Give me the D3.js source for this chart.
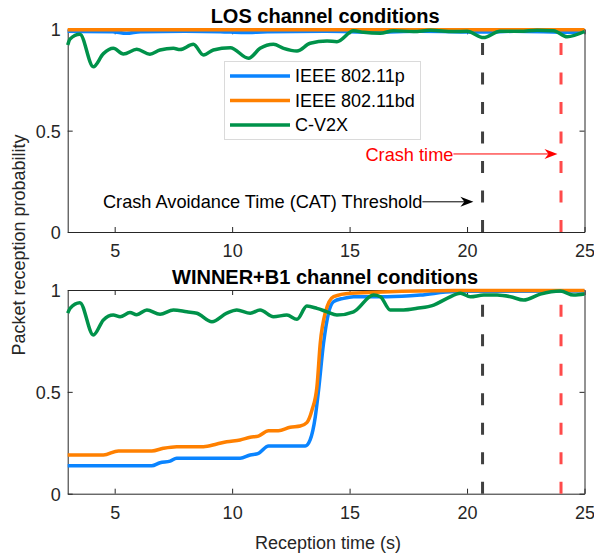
<!DOCTYPE html>
<html>
<head>
<meta charset="utf-8">
<script src="https://cdn.jsdelivr.net/npm/d3@7"></script>
<style>
  body { margin: 0; background: #fff; }
  svg { display: block; font-family: "Liberation Sans", Arial, Helvetica, sans-serif; }
</style>
</head>
<body>
<div id="chart"></div>
<script>
// ---- data (time in s, packet reception probability) ----
const xTicks = [5, 10, 15, 20, 25];
const yTicks = [0, 0.5, 1];
const seriesNames = ["IEEE 802.11p", "IEEE 802.11bd", "C-V2X"];
const seriesColors = ["#0a84ff", "#ff8000", "#00924a"];
const panelTitles = ["LOS channel conditions", "WINNER+B1 channel conditions"];
const catTime = 20.66;
const crashTime = 24;

const losP = [[3, 0.99], [4.9, 0.988], [5.5, 0.98], [6.1, 0.988], [8, 0.99], [9.5, 0.988],
  [10.5, 0.984], [11.5, 0.988], [14, 0.99], [16, 0.986], [18, 0.99], [20.7, 0.987],
  [22, 0.99], [24.5, 0.985], [25, 0.99]];
const losBd = [[3, 0.998], [25, 0.998]];
const losCv2x = [[3, 0.922], [3.1, 0.952], [3.52, 0.975], [4.09, 0.815], [4.52, 0.88],
  [4.94, 0.906], [5.37, 0.878], [5.94, 0.901], [6.5, 0.877], [6.93, 0.898], [7.5, 0.906],
  [7.78, 0.9], [8.35, 0.926], [8.78, 0.873], [9.2, 0.898], [9.92, 0.909], [10.7, 0.857],
  [11.19, 0.906], [11.76, 0.926], [12.19, 0.906], [12.76, 0.893], [13.32, 0.931],
  [14.04, 0.942], [14.46, 0.939], [15.17, 0.993], [15.6, 0.985], [16.3, 0.98],
  [16.87, 0.993], [17.73, 0.989], [18.44, 0.995], [19.43, 0.989], [20, 0.99],
  [20.7, 0.959], [21.4, 0.99], [22.26, 0.99], [22.98, 0.995], [23.69, 0.993],
  [24.26, 0.963], [25, 0.989]];

const winP = [[3, 0.137], [6.58, 0.137], [6.93, 0.152], [7.36, 0.16], [7.64, 0.174],
  [10.34, 0.174], [10.77, 0.19], [11.12, 0.198], [11.55, 0.234], [13.11, 0.234],
  [13.32, 0.264], [13.54, 0.378], [13.68, 0.509], [13.89, 0.738], [14.1, 0.886],
  [14.32, 0.943], [14.74, 0.959], [15.17, 0.967], [16.59, 0.967], [18.01, 0.975],
  [19.43, 0.993], [25, 0.995]];
const winBd = [[3, 0.19], [4.52, 0.19], [5.16, 0.21], [6.58, 0.21], [7.07, 0.223],
  [7.64, 0.231], [8.78, 0.231], [9.35, 0.244], [9.77, 0.255], [10.34, 0.264],
  [10.77, 0.277], [11.12, 0.283], [11.55, 0.309], [11.97, 0.309], [12.47, 0.326],
  [12.9, 0.332], [13.18, 0.349], [13.4, 0.411], [13.61, 0.525], [13.75, 0.738],
  [13.96, 0.886], [14.32, 0.967], [15.03, 0.984], [19.43, 0.997], [25, 0.997]];
const winCv2x = [[3, 0.886], [3.1, 0.91], [3.52, 0.938], [4.09, 0.779], [4.52, 0.853],
  [4.94, 0.877], [5.23, 0.869], [5.65, 0.889], [5.94, 0.879], [6.37, 0.902], [6.93, 0.881],
  [7.5, 0.902], [8.07, 0.893], [8.5, 0.886], [9.14, 0.844], [9.77, 0.886], [10.2, 0.902],
  [10.77, 0.886], [11.19, 0.902], [11.76, 0.869], [12.33, 0.877], [12.76, 0.856],
  [13.18, 0.921], [13.61, 0.91], [14.04, 0.893], [14.46, 0.877], [15.17, 0.893],
  [16.02, 0.975], [16.31, 0.967], [16.73, 0.902], [17.3, 0.902], [17.87, 0.91],
  [18.58, 0.926], [19.15, 0.959], [19.72, 0.984], [20.14, 0.967], [20.71, 0.975],
  [21.28, 0.975], [21.85, 0.967], [22.41, 0.951], [23.12, 0.98], [23.97, 0.995],
  [24.54, 0.975], [25, 0.98]];

// annotation arrows in the LOS panel: [time, probability]
const annotations = [
  { text: "Crash time", color: "#ff0000", from: [19.42, 0.385], to: [23.85, 0.385] },
  { text: "Crash Avoidance Time (CAT) Threshold", color: "#000", from: [18.1, 0.149], to: [20.27, 0.149] }
];

// ---- layout ----
const width = 594, height = 554;
const axisColor = "#262626";
const box = { left: 67.7, right: 584.5 };
const panels = [
  { title: panelTitles[0], top: 29.3, bottom: 232, data: [losP, losBd, losCv2x], legend: true },
  { title: panelTitles[1], top: 290, bottom: 493.7, data: [winP, winBd, winCv2x], legend: false }
];

const svg = d3.select("#chart").append("svg")
  .attr("width", width)
  .attr("height", height);

const x = d3.scaleLinear().domain([3, 25]).range([box.left, box.right]);

panels.forEach(function (p, i) {
  const y = d3.scaleLinear().domain([0, 1]).range([p.bottom, p.top]);
  const g = svg.append("g");

  // axes box with inward ticks
  const gx = g.append("g")
    .attr("transform", "translate(0," + p.bottom + ")")
    .call(d3.axisBottom(x).tickValues(xTicks).tickSizeInner(-5).tickSizeOuter(0).tickFormat(d => d));
  gx.selectAll("text").attr("y", 25).attr("dy", null).style("font-size", "18px");

  g.append("g")
    .attr("transform", "translate(0," + p.top + ")")
    .call(d3.axisTop(x).tickValues(xTicks).tickSizeInner(-5).tickSizeOuter(0).tickFormat(""));

  const gy = g.append("g")
    .attr("transform", "translate(" + box.left + ",0)")
    .call(d3.axisLeft(y).tickValues(yTicks).tickSizeInner(-5).tickSizeOuter(0).tickFormat(d => d));
  gy.selectAll("text").attr("x", -7).attr("dy", "0.36em").style("font-size", "18px");

  g.append("g")
    .attr("transform", "translate(" + box.right + ",0)")
    .call(d3.axisRight(y).tickValues(yTicks).tickSizeInner(-5).tickSizeOuter(0).tickFormat(""));

  g.selectAll(".domain, .tick line").attr("stroke", axisColor).attr("stroke-width", 1);
  g.selectAll(".tick text").attr("fill", axisColor).style("font-family", "Liberation Sans, Arial, sans-serif");

  // title
  g.append("text")
    .attr("x", (box.left + box.right) / 2 - 1)
    .attr("y", p.top - 6.5)
    .attr("text-anchor", "middle")
    .style("font-size", "20px")
    .style("font-weight", "bold")
    .text(p.title);

  // dashed time markers
  [[catTime, "#404040"], [crashTime, "#ff4a4a"]].forEach(function (m) {
    g.append("line")
      .attr("x1", x(m[0])).attr("x2", x(m[0]))
      .attr("y1", y(0)).attr("y2", y(1))
      .attr("stroke", m[1])
      .attr("stroke-width", 3)
      .attr("stroke-dasharray", "12,17.5");
  });

  // series
  const line = d3.line()
    .x(d => x(d[0]))
    .y(d => y(d[1]))
    .curve(d3.curveMonotoneX);

  p.data.forEach(function (s, k) {
    g.append("path")
      .datum(s)
      .attr("fill", "none")
      .attr("stroke", seriesColors[k])
      .attr("stroke-width", 3.5)
      .attr("stroke-linejoin", "round")
      .attr("d", line);
  });

  if (p.legend) {
    const lg = g.append("g");
    lg.append("rect")
      .attr("x", 224.5).attr("y", 61.5)
      .attr("width", 196).attr("height", 78)
      .attr("fill", "#fff")
      .attr("stroke", "#dadada")
      .attr("stroke-width", 1);
    seriesNames.forEach(function (name, k) {
      const ry = 76 + k * 24.5;
      lg.append("line")
        .attr("x1", 230).attr("x2", 290)
        .attr("y1", ry).attr("y2", ry)
        .attr("stroke", seriesColors[k])
        .attr("stroke-width", 3.5);
      lg.append("text")
        .attr("x", 295).attr("y", ry)
        .attr("dy", "0.36em")
        .style("font-size", "18px")
        .attr("fill", "#000")
        .text(name);
    });

    // annotation arrows
    annotations.forEach(function (a) {
      const x0 = x(a.from[0]), y0 = y(a.from[1]);
      const x1 = x(a.to[0]), y1 = y(a.to[1]);
      g.append("line")
        .attr("x1", x0).attr("y1", y0)
        .attr("x2", x1 - 6).attr("y2", y1)
        .attr("stroke", a.color)
        .attr("stroke-width", 1);
      g.append("path")
        .attr("d", "M" + x1 + "," + y1 + "L" + (x1 - 13) + "," + (y1 - 5) +
          "L" + (x1 - 9) + "," + y1 + "L" + (x1 - 13) + "," + (y1 + 5) + "Z")
        .attr("fill", a.color);
      g.append("text")
        .attr("x", x0).attr("y", y0)
        .attr("dy", "0.36em")
        .attr("text-anchor", "end")
        .style("font-size", "18.2px")
        .attr("fill", a.color)
        .text(a.text);
    });
  }
});

// axis labels
svg.append("text")
  .attr("x", (box.left + box.right) / 2 + 2)
  .attr("y", 549)
  .attr("text-anchor", "middle")
  .style("font-size", "18px")
  .attr("fill", axisColor)
  .text("Reception time (s)");

svg.append("text")
  .attr("transform", "translate(25,245) rotate(-90)")
  .attr("text-anchor", "middle")
  .style("font-size", "18px")
  .attr("fill", axisColor)
  .text("Packet reception probability");
</script>
</body>
</html>
